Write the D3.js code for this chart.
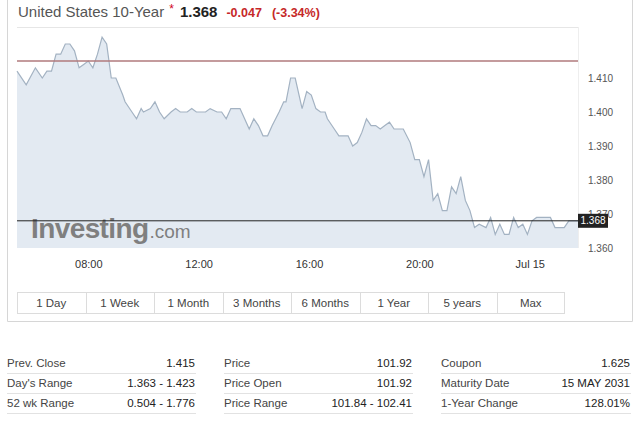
<!DOCTYPE html>
<html>
<head>
<meta charset="utf-8">
<script src="https://cdn.jsdelivr.net/npm/d3@7"></script>
<style>
  html, body { margin: 0; padding: 0; background: #fff; }
  svg { display: block; font-family: Arial, "Liberation Sans", sans-serif; }
</style>
</head>
<body>
<svg id="chart" width="640" height="421"></svg>
<script>
// ---- data ----
const times = [
  "05:25","05:45","06:05","06:20","06:30","06:40","06:50","07:00","07:10","07:20",
  "07:30","07:40","07:50","08:00","08:10","08:20","08:30","08:40","08:50","09:00",
  "09:15","09:20","09:35","09:45","09:55","10:00","10:15","10:25","10:35","10:45",
  "11:00","11:10","11:20","11:30","11:35","11:45","11:55","12:05","12:15","12:25",
  "12:40","12:50","13:00","13:10","13:20","13:30","13:40","13:50","14:00","14:10",
  "14:20","14:30","14:40","14:55","15:05","15:10","15:20","15:30","15:45","15:55",
  "16:05","16:15","16:25","16:35","16:40","16:55","17:05","17:15","17:25","17:35",
  "17:45","17:55","18:05","18:15","18:25","18:35","18:45","18:55","19:05","19:15",
  "19:25","19:40","19:50","20:00","20:10","20:20","20:30","20:40","20:50","21:00",
  "21:10","21:20","21:30","21:40","21:50","22:00","22:10","22:25","22:35","22:45",
  "22:55","23:05","23:15","23:25","23:35","23:45","23:55","00:05","00:15","00:25",
  "00:35","00:45","00:55","01:05","01:15","01:25","01:35","01:45"
];
const yields = [
  1.412,1.408,1.413,1.410,1.412,1.412,1.417,1.417,1.420,1.420,
  1.418,1.413,1.414,1.415,1.413,1.417,1.422,1.420,1.410,1.410,
  1.405,1.403,1.400,1.398,1.401,1.400,1.401,1.403,1.400,1.398,
  1.400,1.401,1.400,1.400,1.400,1.401,1.400,1.400,1.400,1.401,
  1.400,1.400,1.398,1.401,1.401,1.401,1.398,1.395,1.398,1.396,
  1.393,1.393,1.396,1.400,1.403,1.403,1.410,1.410,1.401,1.406,
  1.405,1.401,1.400,1.400,1.398,1.395,1.393,1.393,1.393,1.390,
  1.391,1.394,1.398,1.396,1.396,1.395,1.396,1.397,1.395,1.395,
  1.395,1.391,1.386,1.386,1.381,1.386,1.374,1.376,1.371,1.371,
  1.378,1.376,1.381,1.374,1.371,1.366,1.367,1.366,1.369,1.364,
  1.367,1.364,1.364,1.369,1.366,1.367,1.364,1.368,1.369,1.369,
  1.369,1.369,1.366,1.366,1.366,1.368,1.368,1.368
];
const prevClose = 1.415;
const lastPrice = 1.368;
const yTicks = [1.360, 1.370, 1.380, 1.390, 1.400, 1.410];
const xTickTimes = ["08:00", "12:00", "16:00", "20:00", "00:00"];
const xTickLabels = ["08:00", "12:00", "16:00", "20:00", "Jul 15"];
const rangeButtons = ["1 Day", "1 Week", "1 Month", "3 Months", "6 Months", "1 Year", "5 years", "Max"];
const col1Labels = ["Prev. Close", "Day's Range", "52 wk Range"];
const col1Values = ["1.415", "1.363 - 1.423", "0.504 - 1.776"];
const col2Labels = ["Price", "Price Open", "Price Range"];
const col2Values = ["101.92", "101.92", "101.84 - 102.41"];
const col3Labels = ["Coupon", "Maturity Date", "1-Year Change"];
const col3Values = ["1.625", "15 MAY 2031", "128.01%"];

// ---- helpers ----
function toDate(hm) {
  const [h, m] = hm.split(":").map(Number);
  const day = h < 5 ? 15 : 14;
  return new Date(2021, 6, day, h, m);
}
const data = times.map((t, i) => ({ t: toDate(t), v: yields[i] }));

const svg = d3.select("#chart");

// outer box
svg.append("path")
  .attr("d", "M7.5,0 V321.5 H632.5 V0")
  .attr("fill", "none").attr("stroke", "#d6d6d6");

// title
const title = svg.append("text").attr("x", 18).attr("y", 17).attr("font-size", 15);
title.append("tspan").attr("fill", "#555").text("United States 10-Year");
title.append("tspan").attr("fill", "#d0021b").attr("font-size", 12).attr("dx", 5).attr("dy", -4).text("*");
title.append("tspan").attr("fill", "#222").attr("font-weight", "bold").attr("dx", 6).attr("dy", 4).text("1.368");
title.append("tspan").attr("fill", "#c62828").attr("font-weight", "bold").attr("font-size", 12.5).attr("dx", 9).text("-0.047");
title.append("tspan").attr("fill", "#c62828").attr("font-weight", "bold").attr("font-size", 12.5).attr("dx", 10).text("(-3.34%)");

// scales
const pLeft = 17, pRight = 578, pTop = 27, pBottom = 248;
const x = d3.scaleTime()
  .domain([toDate("05:25"), toDate("01:45")])
  .range([pLeft, pRight]);
const y = d3.scaleLinear().domain([1.360, 1.425]).range([pBottom, pTop]);

// plot frame
svg.append("line").attr("x1", pLeft).attr("x2", pRight).attr("y1", pTop + 0.5).attr("y2", pTop + 0.5)
  .attr("stroke", "#e6e6e6");
svg.append("line").attr("x1", pRight + 0.5).attr("x2", pRight + 0.5).attr("y1", pTop).attr("y2", pBottom)
  .attr("stroke", "#eeeeee");

// area + line
const area = d3.area().x(d => x(d.t)).y0(pBottom).y1(d => y(d.v));
svg.append("path").datum(data).attr("d", area)
  .attr("fill", "#e3eaf2");
const line = d3.line().x(d => x(d.t)).y(d => y(d.v));
svg.append("path").datum(data).attr("d", line)
  .attr("fill", "none").attr("stroke", "#a3b2c2").attr("stroke-width", 1.2);

// watermark (drawn over the area like the reference)
const wm = svg.append("text").attr("x", 31).attr("y", 238);
wm.append("tspan").attr("font-size", 28).attr("font-weight", "bold").attr("letter-spacing", -0.6)
  .attr("fill", "#7f7f7f").text("Investing");
wm.append("tspan").attr("font-size", 19).attr("fill", "#7f7f7f").attr("dx", 1).text(".com");

// prev close line
svg.append("line").attr("x1", pLeft).attr("x2", pRight)
  .attr("y1", y(prevClose)).attr("y2", y(prevClose))
  .attr("stroke", "#b07a7c").attr("stroke-width", 1.5);

// y axis
const yAxis = svg.append("g").attr("transform", `translate(${pRight + 5},0)`)
  .call(d3.axisRight(y).tickValues(yTicks).tickFormat(d3.format(".3f")).tickSize(0));
yAxis.select(".domain").remove();
yAxis.selectAll("text").attr("font-size", 10).attr("fill", "#555")
  .attr("font-family", "Arial, 'Liberation Sans', sans-serif").attr("dx", 2);

// last price line + label
svg.append("line").attr("x1", pLeft).attr("x2", pRight)
  .attr("y1", y(lastPrice)).attr("y2", y(lastPrice))
  .attr("stroke", "#222").attr("stroke-width", 1);
svg.append("rect").attr("x", pRight).attr("y", y(lastPrice) - 7).attr("width", 30).attr("height", 14)
  .attr("fill", "#222");
svg.append("text").attr("x", pRight + 15).attr("y", y(lastPrice) + 3.5)
  .attr("text-anchor", "middle").attr("font-size", 10).attr("fill", "#fff").text(d3.format(".3f")(lastPrice));

// x axis
const xAxis = svg.append("g").attr("transform", `translate(0,${pBottom + 9})`)
  .call(d3.axisBottom(x).tickValues(xTickTimes.map(toDate))
    .tickFormat((d, i) => xTickLabels[i]).tickSize(0));
xAxis.select(".domain").remove();
xAxis.selectAll("text").attr("font-size", 11).attr("fill", "#333")
  .attr("font-family", "Arial, 'Liberation Sans', sans-serif");

// range buttons
const bx = d3.scaleBand().domain(rangeButtons).range([17, 565]);
const btn = svg.append("g");
btn.append("rect").attr("x", 17.5).attr("y", 292.5).attr("width", 547).attr("height", 21)
  .attr("fill", "#fff").attr("stroke", "#dcdcdc");
btn.selectAll("line.div").data(rangeButtons.slice(1)).join("line")
  .attr("x1", d => Math.round(bx(d)) + 0.5).attr("x2", d => Math.round(bx(d)) + 0.5)
  .attr("y1", 293).attr("y2", 313).attr("stroke", "#dcdcdc");
btn.selectAll("text").data(rangeButtons).join("text")
  .attr("x", d => bx(d) + bx.bandwidth() / 2).attr("y", 307)
  .attr("text-anchor", "middle").attr("font-size", 11.5).attr("fill", "#444").text(d => d);

// table
const cols = [
  { x0: 7, x1: 195, labels: col1Labels, values: col1Values },
  { x0: 224, x1: 412, labels: col2Labels, values: col2Values },
  { x0: 441, x1: 630, labels: col3Labels, values: col3Values }
];
const rowY = d3.scalePoint().domain([0, 1, 2]).range([367, 407]);
cols.forEach(c => {
  const g = svg.append("g");
  c.labels.forEach((lab, i) => {
    g.append("text").attr("x", c.x0).attr("y", rowY(i)).attr("font-size", 11.5).attr("fill", "#444").text(lab);
    g.append("text").attr("x", c.x1).attr("y", rowY(i)).attr("text-anchor", "end")
      .attr("font-size", 11.5).attr("fill", "#222").text(c.values[i]);
    g.append("line").attr("x1", c.x0).attr("x2", c.x1 + 1)
      .attr("y1", rowY(i) + 6.5).attr("y2", rowY(i) + 6.5).attr("stroke", "#e2e2e2");
  });
});
</script>
</body>
</html>
